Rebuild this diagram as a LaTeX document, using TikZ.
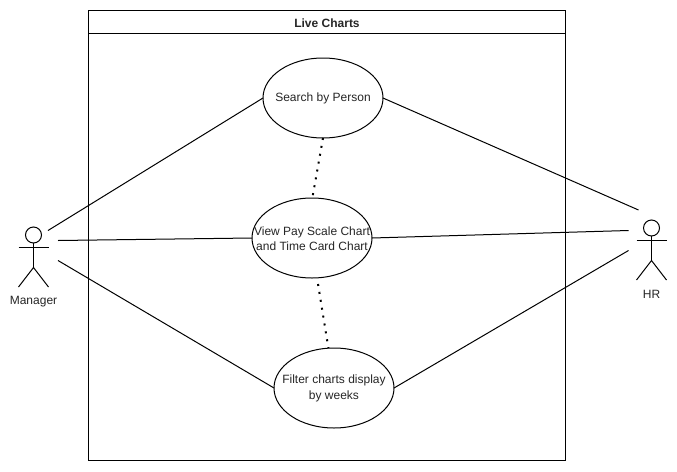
\documentclass[tikz,border=0pt]{standalone}
\usepackage{fontspec}
\setmainfont{Liberation Sans}
\usetikzlibrary{shapes.geometric}
\tikzset{
  usecase/.style={draw=black,ellipse,line width=0.75pt,minimum width=90pt,minimum height=60pt,inner sep=0pt,outer sep=0pt},
  lbl/.style={font=\fontsize{9}{11.5}\selectfont,align=center,inner sep=0pt,text=black!85},
  link/.style={draw=black,line width=0.75pt},
  dotlink/.style={draw=black,line width=1.5pt,dash pattern=on 1.5pt off 4.5pt},
  limb/.style={draw=black,line width=0.75pt},
  head/.style={draw=black,circle,line width=0.75pt,minimum size=12pt,inner sep=0pt,outer sep=0pt},
}
\begin{document}
\begin{tikzpicture}[x=0.75pt,y=-0.75pt]
\useasboundingbox (0,0) rectangle (677,471);
\fill[white] (0,0) rectangle (677,471);
% frame
\coordinate (fTL) at (88.5,10.5);
\coordinate (fBR) at (565.5,460.5);
\coordinate (hL) at (88.5,33.5);
\coordinate (hR) at (565.5,33.5);
\draw[limb] (fTL) rectangle (fBR);
\draw[limb] (hL) -- (hR);
\node[lbl,font=\fontsize{9}{12}\selectfont\bfseries] (title) at (327,23) {Live Charts};
% use cases
\node[usecase] (search) at (323,98) {};
\node[usecase] (view) at (312,238) {};
\node[usecase] (filter) at (334,388) {};
\node[lbl] (searchT) at (323,98.5) {Search by Person};
\node[lbl] (viewT) at (312,238.5) {View Pay Scale Chart\\and Time Card Chart};
\node[lbl] (filterT) at (334,388.5) {Filter charts display\\by weeks};
% Manager
\node[head] (mHead) at (33.5,235) {};
\coordinate (mNeck) at (33.5,247);
\coordinate (mHip) at (33.5,267.5);
\coordinate (mArmL) at (18.5,247);
\coordinate (mArmR) at (48.5,247);
\coordinate (mLegL) at (18.5,287);
\coordinate (mLegR) at (48.5,287);
\draw[limb] (mHead.south) -- (mHip);
\draw[limb] (mArmL) -- (mArmR);
\draw[limb] (mLegL) -- (mHip) -- (mLegR);
\node[lbl] (mLabel) at (33.5,302) {Manager};
% HR
\node[head] (hHead) at (651.5,228) {};
\coordinate (hHip) at (651.5,260.5);
\coordinate (hArmL) at (636.5,240.5);
\coordinate (hArmR) at (666.5,240.5);
\coordinate (hLegL) at (636.5,280);
\coordinate (hLegR) at (666.5,280);
\draw[limb] (hHead.south) -- (hHip);
\draw[limb] (hArmL) -- (hArmR);
\draw[limb] (hLegL) -- (hHip) -- (hLegR);
\node[lbl] (hLabel) at (651.5,294.5) {HR};
% free ends of connectors
\coordinate (m1) at (48,230.5);
\coordinate (m2) at (58,240.5);
\coordinate (m3) at (58,260.5);
\coordinate (h1) at (638.5,210);
\coordinate (h2) at (628.5,230.5);
\coordinate (h3) at (628.5,250.5);
\coordinate (d1) at (312.7,196);
\coordinate (d2) at (318,284);
% connectors
\draw[link] (m1) -- (search.west);
\draw[link] (m2) -- (view.west);
\draw[link] (m3) -- (filter.west);
\draw[link] (search.east) -- (h1);
\draw[link] (view.east) -- (h2);
\draw[link] (filter.east) -- (h3);
\draw[dotlink] (search.south) -- (d1);
\draw[dotlink] (d2) -- (filter.98);
\end{tikzpicture}
\end{document}
